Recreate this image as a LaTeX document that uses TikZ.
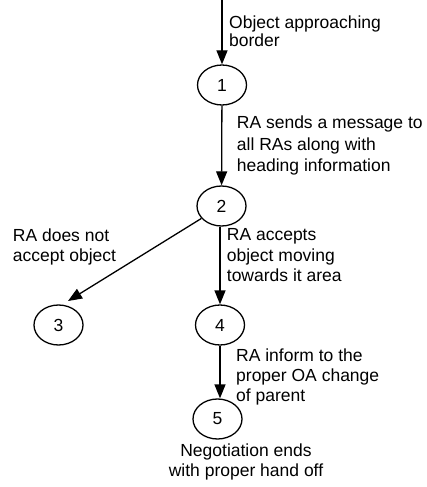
\documentclass[tikz,border=0pt]{standalone}
\usepackage{fontspec}
\setmainfont{Liberation Sans}
\usetikzlibrary{arrows.meta,shapes.geometric}
\begin{document}
\begin{tikzpicture}[x=1pt,y=-1pt,
  state/.style={ellipse,draw,line width=1.3pt,minimum width=49pt,minimum height=40pt,inner sep=0pt,font=\fontsize{17.5}{20}\selectfont},
  lbl/.style={align=left,inner sep=0pt,anchor=base west},
  arr/.style={line width=1.3pt,-{Triangle[length=14pt,width=11pt]}}]
  \useasboundingbox (0,0) rectangle (427,487);

  % states
  \node[state] (n1) at (222,85) {1};
  \node[state] (n2) at (221.5,206) {2};
  \node[state] (n3) at (58.5,325) {3};
  \node[state] (n4) at (220,325) {4};
  \node[state] (n5) at (217.5,419) {5};
  \coordinate (start) at (222,0);
  \coordinate (t3) at (68,301);

  % transitions
  \draw[arr] (start) -- (n1.north);
  \draw[arr] (n1) -- (n2);
  \draw[arr] (n2) -- (t3);
  \draw[arr] (n2.south -| n4.north) -- (n4.north);
  \draw[arr] (n4.south) -- (n4.south |- n5.north);

  % transition labels (placed at the baseline of their last line)
  \node[lbl,font=\fontsize{17.5}{18.3}\selectfont] (l1) at (229,46.7) {Object approaching\\border};
  \node[lbl,font=\fontsize{17.5}{21.7}\selectfont] (l2) at (236.7,171.7) {RA sends a message to\\all RAs along with\\heading information};
  \node[lbl,font=\fontsize{17.5}{20}\selectfont] (l3) at (12.7,261.7) {RA does not\\accept object};
  \node[lbl,font=\fontsize{17.5}{20.5}\selectfont] (l4) at (226.7,281.7) {RA accepts\\object moving\\towards it area};
  \node[lbl,font=\fontsize{17.5}{20}\selectfont] (l5) at (236,401) {RA inform to the\\proper OA change\\of parent};
  \node[align=center,inner sep=0pt,anchor=base,font=\fontsize{17.5}{20}\selectfont] (l6) at (246,476.7) {Negotiation ends\\with proper hand off};
\end{tikzpicture}
\end{document}
